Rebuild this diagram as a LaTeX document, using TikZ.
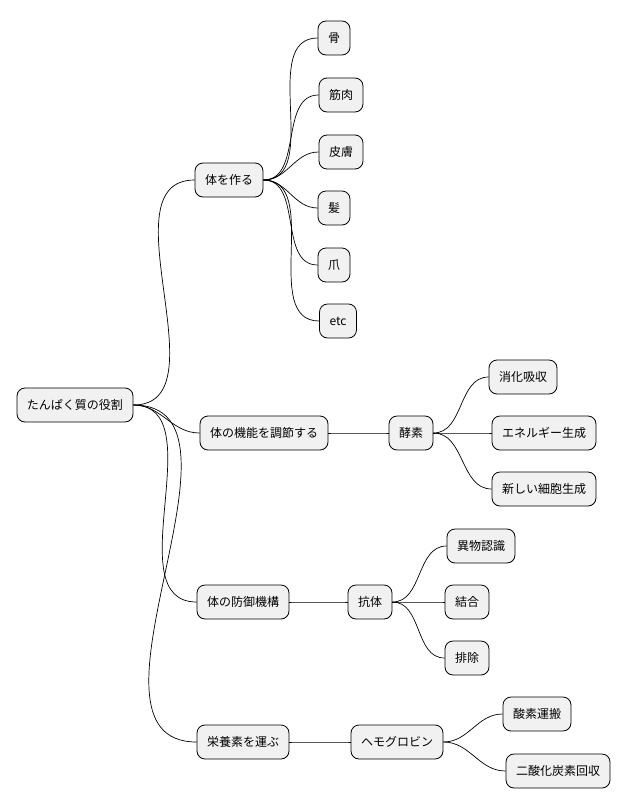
\documentclass[tikz,border=0pt]{standalone}
\usepackage{fontspec}
\setmainfont{Noto Sans CJK JP}
\begin{document}
\begin{tikzpicture}[x=1pt,y=-1pt,
  box/.style={draw=black,line width=0.8pt,fill={rgb,255:red,241;green,241;blue,241},rounded corners=8pt,minimum height=34pt,inner xsep=10pt,font=\fontsize{12}{14}\selectfont},
  ln/.style={line width=0.7pt}]
\useasboundingbox (0,0) rectangle (628,809);
\node[box] (r) at (75,405) {たんぱく質の役割};
\node[box] (a) at (229,180) {体を作る};
\node[box] (a1) at (334,38) {骨};
\node[box] (a2) at (341,95) {筋肉};
\node[box] (a3) at (341,152) {皮膚};
\node[box] (a4) at (334,208) {髪};
\node[box] (a5) at (334,265) {爪};
\node[box] (a6) at (338,321) {etc};
\node[box] (b) at (264,433) {体の機能を調節する};
\node[box] (b1) at (411,433) {酵素};
\node[box] (b11) at (523,377) {消化吸収};
\node[box] (b12) at (544,433) {エネルギー生成};
\node[box] (b13) at (544,489) {新しい細胞生成};
\node[box] (c) at (243,602) {体の防御機構};
\node[box] (c1) at (370,602) {抗体};
\node[box] (c11) at (481,546) {異物認識};
\node[box] (c12) at (467,602) {結合};
\node[box] (c13) at (467,658) {排除};
\node[box] (d) at (243,742) {栄養素を運ぶ};
\node[box] (d1) at (397,742) {ヘモグロビン};
\node[box] (d11) at (537,714) {酸素運搬};
\node[box] (d12) at (558,771) {二酸化炭素回収};
\foreach \p/\c in {r/a,r/b,r/c,r/d,a/a1,a/a2,a/a3,a/a4,a/a5,a/a6,b/b1,b1/b11,b1/b12,b1/b13,c/c1,c1/c11,c1/c12,c1/c13,d/d1,d1/d11,d1/d12}
  \draw[ln] (\p.east) to[out=0,in=180] (\c.west);
\end{tikzpicture}
\end{document}
